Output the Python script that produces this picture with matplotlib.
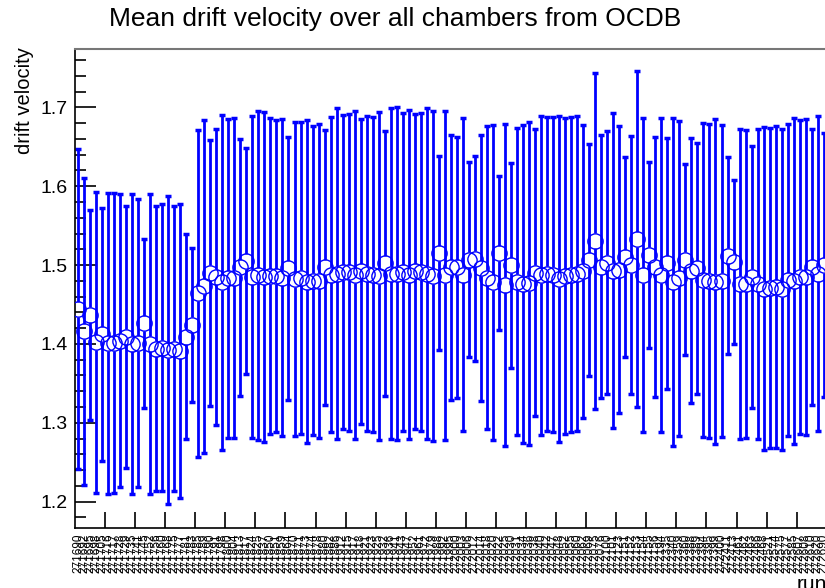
import numpy as np
import matplotlib
matplotlib.use("Agg")
import matplotlib.pyplot as plt

plt.rcParams['font.family'] = ['Liberation Sans', 'DejaVu Sans']

# run numbers (x labels), one per bin
runs = [271690, 271692, 271695, 271698, 271705, 271716, 271717, 271728, 271729, 271735,
        271741, 271745, 271752, 271756, 271760, 271768, 271775, 271777, 271781, 271783,
        271785, 271789, 271790, 271791, 271798, 271800, 271804, 271813, 271817, 271824,
        271825, 271837, 271850, 271851, 271859, 271864, 271870, 271871, 271873, 271874,
        271878, 271880, 271882, 271886, 271912, 271915, 271917, 271918, 271921, 271923,
        271925, 271932, 271936, 271941, 271943, 271947, 271952, 271961, 271972, 271979,
        271988, 271992, 271995, 272000, 272003, 272006, 272012, 272014, 272018, 272020,
        272022, 272025, 272030, 272031, 272034, 272036, 272038, 272040, 272042, 272047,
        272048, 272052, 272055, 272060, 272062, 272069, 272075, 272076, 272100, 272101,
        272123, 272151, 272152, 272153, 272154, 272155, 272156, 272194, 272335, 272340,
        272359, 272360, 272388, 272389, 272394, 272395, 272399, 272400, 272411, 272413,
        272461, 272462, 272463, 272466, 272468, 272521, 272574, 272575, 272577, 272585,
        272607, 272608, 272610, 272620, 272690]

# mean drift velocity per run
vdrift = [1.444, 1.416, 1.437, 1.402, 1.412, 1.401, 1.401, 1.404, 1.409, 1.400,
          1.401, 1.426, 1.400, 1.394, 1.395, 1.392, 1.394, 1.391, 1.409, 1.424,
          1.464, 1.473, 1.490, 1.485, 1.478, 1.483, 1.484, 1.497, 1.505, 1.485,
          1.487, 1.485, 1.486, 1.486, 1.484, 1.496, 1.482, 1.484, 1.479, 1.480,
          1.480, 1.497, 1.488, 1.489, 1.491, 1.491, 1.487, 1.492, 1.489, 1.488,
          1.486, 1.502, 1.489, 1.489, 1.491, 1.488, 1.492, 1.491, 1.489, 1.486,
          1.515, 1.487, 1.497, 1.497, 1.488, 1.507, 1.508, 1.496, 1.484, 1.478,
          1.515, 1.475, 1.500, 1.479, 1.476, 1.477, 1.490, 1.487, 1.489, 1.488,
          1.482, 1.486, 1.488, 1.489, 1.492, 1.506, 1.531, 1.498, 1.503, 1.493,
          1.494, 1.510, 1.500, 1.533, 1.487, 1.513, 1.498, 1.487, 1.502, 1.479,
          1.483, 1.507, 1.493, 1.496, 1.481, 1.480, 1.479, 1.480, 1.512, 1.504,
          1.476, 1.476, 1.485, 1.476, 1.470, 1.471, 1.472, 1.469, 1.481, 1.480,
          1.485, 1.485, 1.497, 1.489, 1.500]

# spread (error) per run
vdrift_err = [0.203, 0.195, 0.133, 0.191, 0.160, 0.191, 0.190, 0.186, 0.166, 0.190,
              0.183, 0.107, 0.190, 0.181, 0.182, 0.195, 0.181, 0.186, 0.130, 0.098,
              0.207, 0.211, 0.169, 0.188, 0.212, 0.202, 0.203, 0.163, 0.143, 0.204,
              0.209, 0.209, 0.200, 0.198, 0.201, 0.167, 0.199, 0.198, 0.205, 0.196,
              0.199, 0.174, 0.200, 0.210, 0.199, 0.201, 0.208, 0.193, 0.200, 0.200,
              0.208, 0.168, 0.210, 0.211, 0.202, 0.209, 0.200, 0.202, 0.210, 0.209,
              0.123, 0.209, 0.168, 0.166, 0.199, 0.124, 0.130, 0.169, 0.192, 0.200,
              0.098, 0.204, 0.130, 0.195, 0.202, 0.205, 0.182, 0.202, 0.199, 0.200,
              0.207, 0.200, 0.200, 0.200, 0.186, 0.147, 0.213, 0.167, 0.167, 0.200,
              0.182, 0.127, 0.164, 0.213, 0.199, 0.118, 0.165, 0.199, 0.159, 0.208,
              0.200, 0.121, 0.168, 0.159, 0.199, 0.199, 0.206, 0.198, 0.125, 0.104,
              0.197, 0.195, 0.166, 0.197, 0.205, 0.203, 0.204, 0.204, 0.198, 0.207,
              0.199, 0.200, 0.175, 0.200, 0.167]

y = np.array(vdrift)
e = np.array(vdrift_err)
n = len(y)
x = np.arange(n) + 0.5

W, H = 825, 588
fig = plt.figure(figsize=(W / 100, H / 100), dpi=100)
# frame in pixels: left 75, top 49, bottom 528; bins are ~6.01 px wide, frame runs off the right edge
bin_px = 6.014
ax = fig.add_axes([75 / W, (H - 528) / H, n * bin_px / W, (528 - 49) / H])
ymin, ymax = 1.1665, 1.774
ax.set_xlim(0, n)
ax.set_ylim(ymin, ymax)

blue = '#0000ff'
# marker radius in data units so the bars stop at the circle (ROOT style)
r_px = 7.5
gap = r_px / (528 - 49) * (ymax - ymin)
top = y + e
bot = y - e
ax.vlines(x, y + gap, top, color=blue, lw=2.0, zorder=2)
ax.vlines(x, bot, y - gap, color=blue, lw=2.0, zorder=2)
ax.plot(x, top, ls='none', marker='_', ms=5, mew=2.5, color=blue, zorder=2)
ax.plot(x, bot, ls='none', marker='_', ms=5, mew=2.5, color=blue, zorder=2)
ax.plot(x, y, ls='none', marker='o', ms=11, mfc='none', mec=blue, mew=1.0, zorder=3)

# axes styling
ax.spines['right'].set_visible(False)
ax.spines['top'].set_color('#777777')
ax.spines['top'].set_linewidth(1.5)
ax.spines['left'].set_linewidth(1.2)
ax.spines['bottom'].set_linewidth(1.2)

ax.set_yticks(np.arange(1.2, 1.71, 0.1))
ax.set_yticklabels(['1.2', '1.3', '1.4', '1.5', '1.6', '1.7'])
ax.set_yticks(np.arange(1.18, 1.771, 0.02), minor=True)
ax.tick_params(axis='y', which='major', direction='in', length=15, width=1.2,
               labelsize=14, pad=5)
ax.tick_params(axis='y', which='minor', direction='in', length=8, width=1.2)

ax.set_xticks(np.arange(0, n, 5)[1:])
ax.set_xticklabels([])
ax.tick_params(axis='x', which='major', direction='in', length=11.5, width=1.2)
ax.set_xticks(x, minor=True)
ax.set_xticklabels([str(r) for r in runs], minor=True, rotation=90, fontsize=8.5)
ax.tick_params(axis='x', which='minor', length=0, pad=4)

fig.text(395 / W, 1 - 19 / H, 'Mean drift velocity over all chambers from OCDB',
         ha='center', va='center', fontsize=19)
fig.text(24 / W, 1 - 47 / H, 'drift velocity', rotation=90, ha='center', va='top',
         fontsize=14.5)
fig.text(797 / W, 1 - 575 / H, 'run', ha='left', va='top', fontsize=15)

fig.savefig('out.png', dpi=100)
